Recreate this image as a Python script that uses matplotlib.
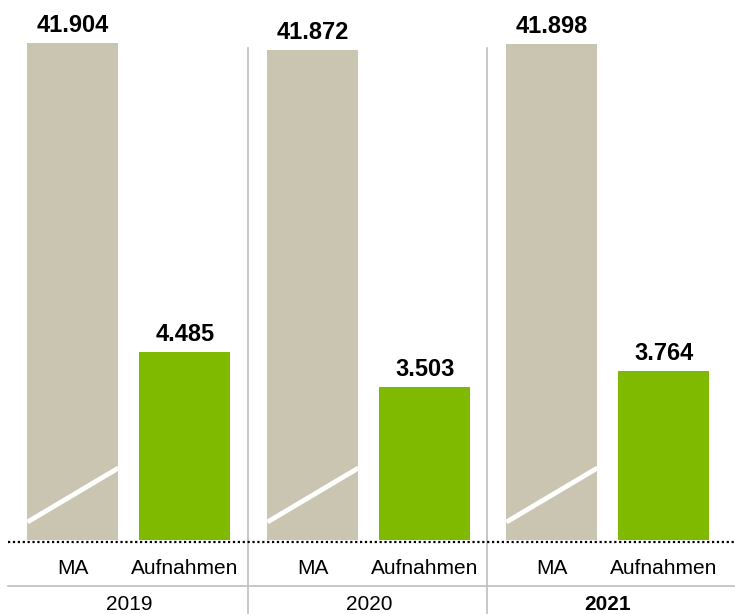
import matplotlib
matplotlib.use("Agg")
import matplotlib.pyplot as plt
import matplotlib.transforms as mtransforms
from matplotlib.lines import Line2D

# ---------------- data ----------------
years = ["2019", "2020", "2021"]
categories = ["MA", "Aufnahmen"]
ma_values = [41904, 41872, 41898]
aufnahmen_values = [4485, 3503, 3764]

# ---------------- style / layout ----------------
plt.rcParams['font.family'] = ['Liberation Sans', 'DejaVu Sans']
BEIGE = "#C9C5B0"
GREEN = "#80BA00"
GRID = "#BFBFBF"

W, H = 735, 614
fig = plt.figure(figsize=(W / 100, H / 100), dpi=100)

panel_left = [8, 248, 487]
panel_w = 240
ax_bottom_px, ax_top_px = 540, 40
ma_lim = (39632, 41918)                 # broken (truncated) scale for MA bars
green_top = [11928, 11448, 11136]       # per-chart scale of the Aufnahmen bars
bar_w = 0.8125
xlim = (-0.58, -0.58 + 240 / 112)


def fmt(v):
    return f"{v:,}".replace(",", ".")


for i, year in enumerate(years):
    rect = [panel_left[i] / W, (H - ax_bottom_px) / H, panel_w / W,
            (ax_bottom_px - ax_top_px) / H]
    ax = fig.add_axes(rect)
    ax.set_xlim(*xlim)
    ax.set_ylim(0, green_top[i])
    ax.bar(1, aufnahmen_values[i], width=bar_w, color=GREEN, zorder=2)
    ax.annotate(fmt(aufnahmen_values[i]), xy=(1, aufnahmen_values[i]),
                xytext=(0, 8), textcoords="offset points", ha="center",
                va="baseline", fontsize=17, fontweight="bold")

    axm = ax.twinx()
    axm.set_ylim(*ma_lim)
    axm.bar(0, ma_values[i], width=bar_w, color=BEIGE, zorder=2)
    axm.annotate(fmt(ma_values[i]), xy=(0, ma_values[i]),
                 xytext=(0, 8), textcoords="offset points", ha="center",
                 va="baseline", fontsize=17, fontweight="bold")
    # axis break marker
    trans = mtransforms.blended_transform_factory(axm.transData, axm.transAxes)
    axm.plot([-bar_w / 2, bar_w / 2], [0.036, 0.144], transform=trans,
             color="white", lw=3.5, solid_capstyle="butt", zorder=3)

    for a in (ax, axm):
        for s in a.spines.values():
            s.set_visible(False)
        a.set_yticks([])
    ax.set_xticks([0, 1], categories, fontsize=15)
    ax.tick_params(axis="x", length=0, pad=13.5)
    for lbl in ax.get_xticklabels()[1:]:
        lbl.set_x(1.02)

    ytrans = mtransforms.blended_transform_factory(ax.transData, ax.transAxes)
    ax.text(0.5, -0.13, year, transform=ytrans, ha="center", va="center",
            fontsize=15, fontweight="bold" if i == len(years) - 1 else "normal")


def fy(px):
    return (H - px) / H


# baseline (dotted)
fig.add_artist(Line2D([8 / W, 1], [fy(542), fy(542)], color="black", lw=1.6,
                      linestyle=(0, (1, 1.2)), zorder=5))
# separator lines
fig.add_artist(Line2D([8 / W, 1], [fy(586), fy(586)], color=GRID, lw=1.2))
for xp in (248, 487):
    fig.add_artist(Line2D([xp / W, xp / W], [fy(48), 0], color=GRID, lw=1.2))

fig.savefig("out.png", dpi=100)
